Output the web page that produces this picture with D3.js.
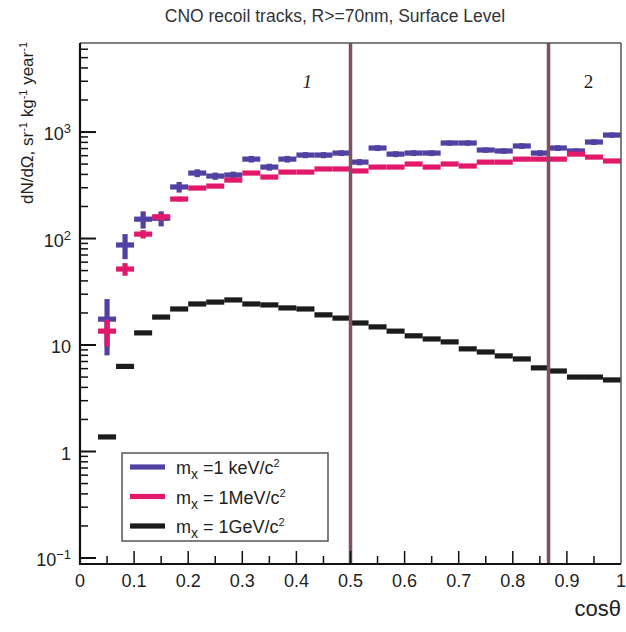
<!DOCTYPE html>
<html>
<head>
<meta charset="utf-8">
<title>CNO recoil tracks</title>
<script src="https://d3js.org/d3.v7.min.js"></script>
<style>
  body { margin: 0; background: #fff; }
  svg { display: block; font-family: 'Liberation Sans', Arial, sans-serif; }
  .tick-label { font-size: 18px; fill: #222; }
</style>
</head>
<body>
<svg id="chart" width="626" height="632"></svg>
<script>
// bin centres in cos(theta), 30 bins of width 1/30, first bin is empty
var binWidth = 1 / 30;
var binCenters = [0.0500, 0.0833, 0.1167, 0.1500, 0.1833, 0.2167, 0.2500, 0.2833, 0.3167, 0.3500,
                  0.3833, 0.4167, 0.4500, 0.4833, 0.5167, 0.5500, 0.5833, 0.6167, 0.6500, 0.6833,
                  0.7167, 0.7500, 0.7833, 0.8167, 0.8500, 0.8833, 0.9167, 0.9500, 0.9833];

// m_x = 1 keV/c^2
var keV = [17.5, 87, 152, 155, 305, 412, 386, 395, 557, 469, 557, 608, 608, 635, 522,
           708, 621, 635, 635, 789, 789, 678, 664, 740, 635, 708, 664, 806, 937];
var keVErr = [9.5, 23, 28, 25, 35, 35, 30, 30, 40, 35, 40, 40, 40, 40, 35,
              45, 40, 40, 40, 45, 45, 40, 40, 45, 40, 45, 40, 50, 55];
// m_x = 1 MeV/c^2
var MeV = [13.5, 51.7, 110, 160, 235, 298, 311, 354, 412, 378, 421, 421, 450, 450, 431,
           469, 469, 501, 469, 501, 480, 522, 522, 557, 557, 557, 621, 582, 535];
var MeVErr = [3.8, 7, 10, 12, 12, 10, 10, 10, 12, 10, 12, 12, 12, 12, 12,
              12, 12, 12, 12, 12, 12, 12, 12, 12, 12, 12, 14, 14, 12];
// m_x = 1 GeV/c^2
var GeV = [1.37, 6.3, 13.0, 18.3, 21.8, 24.3, 25.3, 26.5, 24.3, 23.8, 22.3, 21.8, 19.2, 17.9, 16.1,
           14.8, 13.5, 12.2, 11.4, 10.7, 9.2, 8.6, 7.9, 7.4, 6.1, 5.7, 5.0, 5.0, 4.7];

var regionLines = [0.5, 0.866];
var regionLabels = [{x: 0.42, text: "1", italic: true}, {x: 0.94, text: "2", italic: false}];
var xTicks = [0, 0.1, 0.2, 0.3, 0.4, 0.5, 0.6, 0.7, 0.8, 0.9, 1];
var xTickLabels = ["0", "0.1", "0.2", "0.3", "0.4", "0.5", "0.6", "0.7", "0.8", "0.9", "1"];
var yDecades = [0.1, 1, 10, 100, 1000];
var yDecadeLabels = [["10", "\u22121"], ["1", ""], ["10", ""], ["10", "2"], ["10", "3"]];
var legendNames = ["=1 keV/c", " = 1MeV/c", " = 1GeV/c"];

var colBlue = "#5241a3", colPink = "#e2196b", colBlack = "#1c1c1c", colLine = "#7d5161";

var plotLeft = 80, plotRight = 621, plotTop = 43, plotBottom = 564;
var svg = d3.select("#chart");

var x = d3.scaleLinear().domain([0, 1]).range([plotLeft, plotRight]);
var y = d3.scaleLog().domain([0.0878, 6860]).range([plotBottom, plotTop]);

// title
svg.append("text")
  .attr("x", 335).attr("y", 22)
  .attr("text-anchor", "middle")
  .style("font-size", "17.5px").style("fill", "#333")
  .text("CNO recoil tracks, R>=70nm, Surface Level");

// data drawing helper: horizontal bin bar plus vertical error bar
function drawSeries(vals, errs, color) {
  var g = svg.append("g").attr("fill", color);
  vals.forEach(function (v, i) {
    var c = binCenters[i];
    var x0 = x(c - binWidth / 2), x1 = x(c + binWidth / 2);
    g.append("rect")
      .attr("x", x0).attr("width", x1 - x0)
      .attr("y", y(v) - 2.6).attr("height", 5.2);
    if (errs) {
      var yt = y(v + errs[i]), yb = y(Math.max(v - errs[i], 0.09));
      g.append("rect")
        .attr("x", x(c) - 2.6).attr("width", 5.2)
        .attr("y", yt).attr("height", yb - yt);
    }
  });
}

drawSeries(GeV, null, colBlack);
drawSeries(keV, keVErr, colBlue);
drawSeries(MeV, MeVErr, colPink);

// region boundaries
regionLines.forEach(function (d) {
  svg.append("line")
    .attr("x1", x(d)).attr("x2", x(d))
    .attr("y1", plotTop).attr("y2", plotBottom)
    .attr("stroke", colLine).attr("stroke-width", 3.5);
});

regionLabels.forEach(function (d) {
  svg.append("text")
    .attr("x", x(d.x)).attr("y", 88)
    .attr("text-anchor", "middle")
    .style("font-family", "'Liberation Serif', 'DejaVu Serif', serif")
    .style("font-size", "19px")
    .style("font-style", d.italic ? "italic" : "normal")
    .style("fill", "#222")
    .text(d.text);
});

// frame: thin top/right, thick left/bottom
svg.append("line").attr("x1", plotLeft).attr("x2", plotRight).attr("y1", plotTop).attr("y2", plotTop)
  .attr("stroke", "#555").attr("stroke-width", 1.5);
svg.append("line").attr("x1", plotRight).attr("x2", plotRight).attr("y1", plotTop).attr("y2", plotBottom)
  .attr("stroke", "#555").attr("stroke-width", 1.5);

// x axis ticks (inward)
var xMinor = d3.range(0, 1.0001, 0.05);
var axisG = svg.append("g").attr("stroke", "#111").attr("stroke-width", 1.5);
xMinor.forEach(function (t) {
  var major = Math.abs(t * 10 - Math.round(t * 10)) < 1e-6;
  if (t === 0 || t > 0.999) return;
  axisG.append("line")
    .attr("x1", x(t)).attr("x2", x(t))
    .attr("y1", plotBottom).attr("y2", plotBottom - (major ? 13 : 8));
});
xTicks.forEach(function (t, i) {
  svg.append("text").attr("class", "tick-label")
    .attr("x", x(t)).attr("y", 587)
    .attr("text-anchor", "middle")
    .text(xTickLabels[i]);
});

// y axis ticks (inward)
yDecades.forEach(function (d, i) {
  axisG.append("line")
    .attr("x1", plotLeft).attr("x2", plotLeft + 16)
    .attr("y1", y(d)).attr("y2", y(d))
    .attr("stroke-width", 2);
  for (var k = 2; k <= 9; k++) {
    var v = d * k;
    if (v > y.domain()[1]) break;
    axisG.append("line")
      .attr("x1", plotLeft).attr("x2", plotLeft + 8)
      .attr("y1", y(v)).attr("y2", y(v));
  }
  var lab = svg.append("text").attr("class", "tick-label")
    .attr("x", 71).attr("y", y(d) + 8)
    .attr("text-anchor", "end");
  lab.append("tspan").text(yDecadeLabels[i][0]);
  if (yDecadeLabels[i][1]) {
    lab.append("tspan").attr("dy", -7).style("font-size", "13px").text(yDecadeLabels[i][1]);
  }
});

// axis lines
svg.append("line").attr("x1", plotLeft).attr("x2", plotLeft).attr("y1", plotTop).attr("y2", plotBottom + 1)
  .attr("stroke", "#111").attr("stroke-width", 2.2);
svg.append("line").attr("x1", plotLeft - 1).attr("x2", plotRight).attr("y1", plotBottom).attr("y2", plotBottom)
  .attr("stroke", "#111").attr("stroke-width", 2.2);

// axis titles
var yt = svg.append("text")
  .attr("transform", "translate(33," + (plotTop - 1) + ") rotate(-90)")
  .attr("text-anchor", "end")
  .style("font-size", "17px").style("fill", "#222");
yt.append("tspan").text("dN/d\u03A9, sr");
yt.append("tspan").attr("dy", -6).style("font-size", "11px").text("-1");
yt.append("tspan").attr("dy", 6).text(" kg");
yt.append("tspan").attr("dy", -6).style("font-size", "11px").text("-1");
yt.append("tspan").attr("dy", 6).text(" year");
yt.append("tspan").attr("dy", -6).style("font-size", "11px").text("-1");

svg.append("text")
  .attr("x", plotRight).attr("y", 616)
  .attr("text-anchor", "end")
  .style("font-size", "22px").style("fill", "#222")
  .text("cos\u03B8");

// legend
var legColors = [colBlue, colPink, colBlack];
svg.append("rect")
  .attr("x", 122).attr("y", 453).attr("width", 206).attr("height", 88)
  .attr("fill", "#fff").attr("stroke", "#555").attr("stroke-width", 1.5);
legendNames.forEach(function (name, i) {
  var ly = 467 + i * 29.5;
  svg.append("rect")
    .attr("x", 130).attr("y", ly - 2.6).attr("width", 35).attr("height", 5.2)
    .attr("fill", legColors[i]);
  var t = svg.append("text")
    .attr("x", 176).attr("y", ly + 7)
    .style("font-size", "18px").style("fill", "#222");
  t.append("tspan").text("m");
  t.append("tspan").attr("dy", 5).style("font-size", "14px").text("x");
  t.append("tspan").attr("dy", -5).text(" " + name);
  t.append("tspan").attr("dy", -7).style("font-size", "11px").text("2");
});
</script>
</body>
</html>
